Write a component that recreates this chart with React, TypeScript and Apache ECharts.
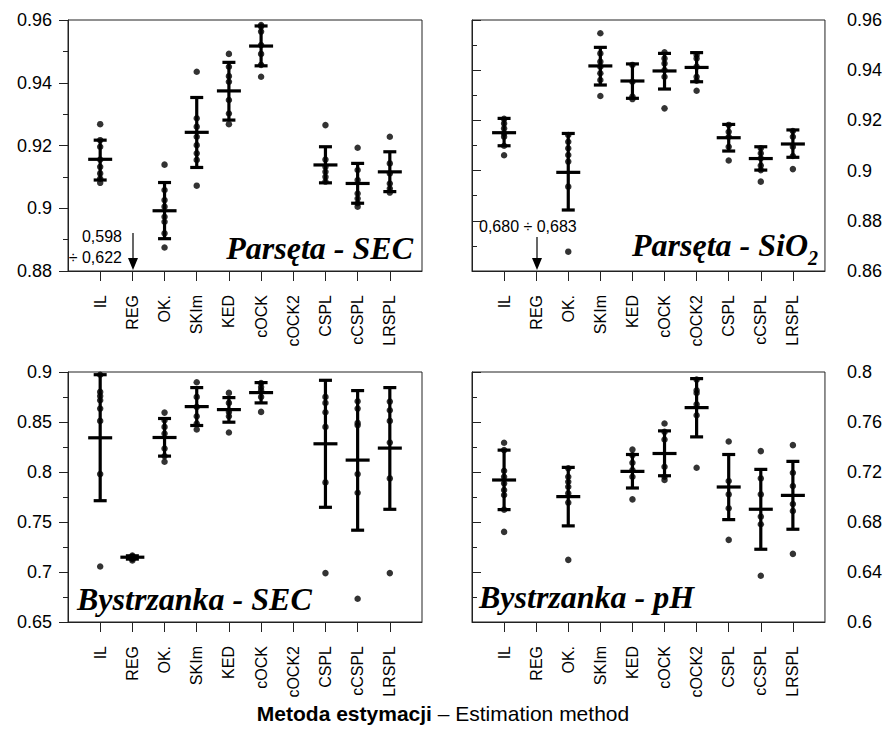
import React, { useEffect, useRef } from "react";
import * as echarts from "echarts";

const categories = ["IL", "REG", "OK.", "SKIm", "KED", "cOCK", "cOCK2", "CSPL", "cCSPL", "LRSPL"];
const catPositions = [1, 2, 3, 4, 5, 6, 7, 8, 9, 10];

// Panel A: Parsęta - SEC
const aMean = [0.9156, null, 0.8992, 0.9242, 0.9374, 0.9517, null, 0.9138, 0.9079, 0.9116];
const aLow = [0.909, null, 0.8903, 0.913, 0.9281, 0.9454, null, 0.9081, 0.9016, 0.9053];
const aHigh = [0.9217, null, 0.9082, 0.9353, 0.9465, 0.9581, null, 0.9196, 0.9143, 0.918];
const aPoints = [
  [0.9268, 0.9217, 0.9196, 0.9155, 0.9132, 0.9111, 0.9095, 0.9081],
  [],
  [0.9139, 0.9058, 0.9026, 0.9005, 0.8973, 0.8957, 0.892, 0.8875],
  [0.9435, 0.9287, 0.926, 0.9228, 0.9201, 0.9175, 0.9154, 0.9072],
  [0.9492, 0.9451, 0.9421, 0.9403, 0.9345, 0.9302, 0.9268],
  [0.9584, 0.9579, 0.9563, 0.952, 0.9492, 0.9457, 0.9419],
  [],
  [0.9265, 0.9155, 0.9132, 0.9116, 0.91, 0.9085],
  [0.9193, 0.9122, 0.909, 0.9047, 0.9031, 0.9016, 0.9005],
  [0.9228, 0.9143, 0.9111, 0.9079, 0.9063, 0.905],
];

// Panel B: Parsęta - SiO2
const bMean = [0.9151, null, 0.8993, 0.9417, 0.9357, 0.9397, 0.9411, 0.9131, 0.9048, 0.9106];
const bLow = [0.9099, null, 0.8843, 0.9341, 0.9288, 0.9325, 0.9354, 0.9078, 0.9002, 0.9053];
const bHigh = [0.9208, null, 0.9148, 0.9491, 0.9425, 0.9467, 0.947, 0.9184, 0.9095, 0.9162];
const bPoints = [
  [0.9206, 0.9188, 0.9168, 0.9148, 0.9135, 0.9099, 0.9061],
  [],
  [0.9142, 0.9115, 0.9089, 0.9062, 0.9036, 0.8936, 0.8677],
  [0.9547, 0.9467, 0.9434, 0.9414, 0.9388, 0.9361, 0.9297],
  [0.9421, 0.9354, 0.9295, 0.9285],
  [0.9471, 0.9447, 0.9427, 0.9401, 0.9374, 0.9248],
  [0.9461, 0.9447, 0.9414, 0.9374, 0.9358, 0.9318],
  [0.9182, 0.9155, 0.9135, 0.9095, 0.904],
  [0.9089, 0.9069, 0.9049, 0.902, 0.9002, 0.8956],
  [0.9158, 0.9135, 0.9095, 0.9058, 0.9006],
];

// Panel C: Bystrzanka - SEC
const cMean = [0.8342, 0.7148, 0.8345, 0.8654, 0.8624, 0.8794, null, 0.8282, 0.8119, 0.8239];
const cLow = [0.7713, 0.7129, 0.8159, 0.8465, 0.8498, 0.8691, null, 0.7647, 0.7418, 0.7627];
const cHigh = [0.8973, 0.7162, 0.8535, 0.8844, 0.8744, 0.8894, null, 0.8917, 0.8814, 0.8844];
const cPoints = [
  [0.8973, 0.8801, 0.876, 0.8717, 0.8634, 0.8511, 0.7979, 0.7055],
  [0.7165, 0.7155, 0.7148, 0.714, 0.713, 0.7115],
  [0.8594, 0.8518, 0.8451, 0.8385, 0.8235, 0.8159, 0.8102],
  [0.8897, 0.8751, 0.8651, 0.8558, 0.8485, 0.8425],
  [0.8791, 0.8691, 0.8601, 0.8558, 0.8395],
  [0.889, 0.885, 0.8817, 0.8751, 0.8601],
  [],
  [0.8751, 0.8691, 0.8598, 0.8451, 0.7896, 0.6989],
  [0.8707, 0.8634, 0.8491, 0.8468, 0.7979, 0.7793, 0.6733],
  [0.8704, 0.8618, 0.8511, 0.8295, 0.7936, 0.6989],
];

// Panel D: Bystrzanka - pH
const dMean = [0.7136, null, 0.7003, null, 0.7205, 0.7348, 0.7715, 0.708, 0.6902, 0.7013];
const dLow = [0.6899, null, 0.6769, null, 0.7072, 0.717, 0.7481, 0.6819, 0.6582, 0.6742];
const dHigh = [0.7375, null, 0.7237, null, 0.734, 0.7529, 0.7947, 0.734, 0.7221, 0.7285];
const dPoints = [
  [0.7434, 0.7375, 0.721, 0.7162, 0.7109, 0.7056, 0.7016, 0.6899, 0.6721],
  [],
  [0.7229, 0.7162, 0.7122, 0.7082, 0.7029, 0.6955, 0.6497],
  [],
  [0.738, 0.7335, 0.7274, 0.7215, 0.7162, 0.6981],
  [0.7588, 0.7521, 0.746, 0.7242, 0.7162, 0.7136],
  [0.7939, 0.7854, 0.7832, 0.7742, 0.7654, 0.7234],
  [0.7444, 0.7128, 0.7021, 0.691, 0.6657],
  [0.7367, 0.7149, 0.7021, 0.6843, 0.6782, 0.637],
  [0.7415, 0.7194, 0.7088, 0.6944, 0.6888, 0.6545],
];

const yMins = [0.88, 0.86, 0.65, 0.6];
const yMaxs = [0.96, 0.96, 0.9, 0.8];
const yIntervals = [0.02, 0.02, 0.05, 0.04];

const SANS = "Liberation Sans, Arial, sans-serif";
const SERIF = "Liberation Serif, Times New Roman, serif";

const panels = [
  { mean: aMean, low: aLow, high: aHigh, points: aPoints },
  { mean: bMean, low: bLow, high: bHigh, points: bPoints },
  { mean: cMean, low: cLow, high: cHigh, points: cPoints },
  { mean: dMean, low: dLow, high: dHigh, points: dPoints },
];

const grids = [
  { left: 68, top: 20, width: 354, height: 251 },
  { left: 472, top: 20, width: 353, height: 251 },
  { left: 68, top: 372, width: 354, height: 250 },
  { left: 472, top: 372, width: 353, height: 250 },
];

function buildOption() {
  const xAxis = grids.map((_, i) => ({
    type: "value",
    gridIndex: i,
    min: 0,
    max: 11,
    interval: 1,
    splitLine: { show: false },
    axisLine: { show: true, lineStyle: { color: "#222", width: 1 } },
    axisTick: {
      show: true,
      length: 10,
      customValues: catPositions,
      lineStyle: { color: "#222", width: 1 },
    },
    axisLabel: {
      show: true,
      customValues: catPositions,
      rotate: 90,
      margin: 24,
      fontSize: 16,
      fontFamily: SANS,
      color: "#000",
      formatter: (v: number) => categories[Math.round(v) - 1] ?? "",
    },
  }));

  const yAxis = grids.map((_, i) => ({
    type: "value",
    gridIndex: i,
    position: i % 2 === 0 ? "left" : "right",
    min: yMins[i],
    max: yMaxs[i],
    interval: yIntervals[i],
    splitLine: { show: false },
    axisLine: { show: true, lineStyle: { color: "#222", width: 1 } },
    axisTick: { show: true, length: 9, lineStyle: { color: "#222", width: 1 } },
    minorTick: { show: true, splitNumber: 2, length: 5, lineStyle: { color: "#222", width: 1 } },
    axisLabel: {
      margin: i % 2 === 0 ? 16 : 22,
      fontSize: 18,
      fontFamily: SANS,
      color: "#000",
    },
  }));

  const series: any[] = [];
  panels.forEach((p, i) => {
    const pts: number[][] = [];
    p.points.forEach((arr, ci) => arr.forEach((v) => pts.push([catPositions[ci], v])));
    series.push({
      type: "scatter",
      xAxisIndex: i,
      yAxisIndex: i,
      symbol: "circle",
      symbolSize: 6.5,
      itemStyle: { color: "#000" },
      data: pts,
      z: 3,
    });
    const bars: number[][] = [];
    p.mean.forEach((m, ci) => {
      if (m != null && p.low[ci] != null && p.high[ci] != null) {
        bars.push([catPositions[ci], m, p.low[ci] as number, p.high[ci] as number]);
      }
    });
    series.push({
      type: "custom",
      xAxisIndex: i,
      yAxisIndex: i,
      encode: { x: 0, y: [1, 2, 3] },
      data: bars,
      z: 4,
      renderItem: (_params: any, api: any) => {
        const x = api.value(0);
        const pm = api.coord([x, api.value(1)]);
        const pl = api.coord([x, api.value(2)]);
        const ph = api.coord([x, api.value(3)]);
        const style = { stroke: "#000", lineWidth: 3.2, fill: "none" };
        const cap = 6.5;
        const half = 12;
        return {
          type: "group",
          children: [
            { type: "line", shape: { x1: pl[0], y1: pl[1], x2: ph[0], y2: ph[1] }, style },
            { type: "line", shape: { x1: ph[0] - cap, y1: ph[1], x2: ph[0] + cap, y2: ph[1] }, style },
            { type: "line", shape: { x1: pl[0] - cap, y1: pl[1], x2: pl[0] + cap, y2: pl[1] }, style },
            { type: "line", shape: { x1: pm[0] - half, y1: pm[1], x2: pm[0] + half, y2: pm[1] }, style },
          ],
        };
      },
    });
  });

  const labelStyle = {
    fontFamily: SERIF,
    fontWeight: "bold",
    fontStyle: "italic",
    fontSize: 32,
    fill: "#000",
  };
  const smallText = { fontFamily: SANS, fontSize: 16, fill: "#000" };

  const graphic: any[] = [
    { type: "text", x: 413, y: 248, style: { ...labelStyle, text: "Parsęta - SEC", align: "right", verticalAlign: "middle" } },
    { type: "text", x: 632, y: 245, style: { ...labelStyle, text: "Parsęta - SiO", align: "left", verticalAlign: "middle" } },
    { type: "text", x: 808, y: 258, style: { ...labelStyle, fontSize: 20, text: "2", align: "left", verticalAlign: "middle" } },
    { type: "text", x: 77, y: 599, style: { ...labelStyle, text: "Bystrzanka - SEC", align: "left", verticalAlign: "middle" } },
    { type: "text", x: 479, y: 597, style: { ...labelStyle, text: "Bystrzanka - pH", align: "left", verticalAlign: "middle" } },
    { type: "text", x: 122, y: 236, style: { ...smallText, text: "0,598", align: "right", verticalAlign: "middle" } },
    { type: "text", x: 122, y: 257, style: { ...smallText, text: "÷ 0,622", align: "right", verticalAlign: "middle" } },
    { type: "line", shape: { x1: 133, y1: 233, x2: 133, y2: 260 }, style: { stroke: "#000", lineWidth: 1.2 } },
    { type: "polygon", shape: { points: [[128, 258], [138, 258], [133, 270]] }, style: { fill: "#000" } },
    { type: "text", x: 479, y: 226, style: { ...smallText, text: "0,680 ÷ 0,683", align: "left", verticalAlign: "middle" } },
    { type: "line", shape: { x1: 537, y1: 237, x2: 537, y2: 260 }, style: { stroke: "#000", lineWidth: 1.2 } },
    { type: "polygon", shape: { points: [[532, 258], [542, 258], [537, 270]] }, style: { fill: "#000" } },
    {
      type: "text",
      x: 443,
      y: 713,
      style: {
        text: "{b|Metoda estymacji}{n| – Estimation method}",
        align: "center",
        verticalAlign: "middle",
        rich: {
          b: { fontFamily: SANS, fontSize: 21, fontWeight: "bold", fill: "#000" },
          n: { fontFamily: SANS, fontSize: 21, fill: "#000" },
        },
      },
    },
  ];

  return {
    animation: false,
    backgroundColor: "#fff",
    grid: grids.map((g) => ({ ...g, show: true, borderColor: "#222", borderWidth: 1, backgroundColor: "transparent" })),
    xAxis,
    yAxis,
    series,
    graphic,
  };
}

export default function App() {
  const ref = useRef<HTMLDivElement>(null);
  useEffect(() => {
    if (!ref.current) return;
    const chart = echarts.init(ref.current, undefined, { renderer: "svg" });
    chart.setOption(buildOption() as any);
    return () => chart.dispose();
  }, []);
  return (
    <div
      ref={ref}
      style={{ position: "fixed", left: 0, top: 0, width: 885, height: 730, background: "#fff" }}
    />
  );
}
